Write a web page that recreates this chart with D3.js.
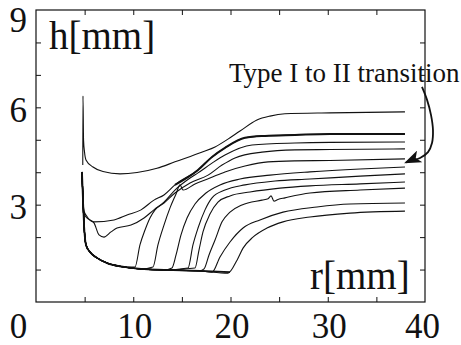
<!DOCTYPE html>
<html>
<head>
<meta charset="utf-8">
<script src="https://cdn.jsdelivr.net/npm/d3@7"></script>
<style>
 body{margin:0;background:#fff;}
 svg text{font-family:"Liberation Serif","Times New Roman",serif;fill:#111;}
</style>
</head>
<body>
<div id="chart"></div>
<script>
// tick values and labels
const xTickLabels = [0,10,20,30,40];
const yTickLabels = [3,6,9];
const xMinorTicks = [5,10,15,20,25,30,35];
const yMinorTicks = [1,2,3,4,5,6,7,8];

// thin film before the jump, shared by the curves that jump from the bottom  [r, h]
const film = [[4.73,4.01],[4.83,3.14],[4.94,2.37],[5.14,1.76],[5.55,1.54],[6.27,1.36],[7.30,1.20],[9.05,1.08],[10.80,1.02],[13.16,0.99],[16.86,0.96],[19.95,0.92]];

// top curve with the spike at the inlet
const curve1 = [[4.81,4.22],[4.83,6.35],[4.89,4.99],[4.99,4.62],[5.14,4.38],[5.86,4.16],[6.89,4.02],[8.64,3.95],[10.39,3.99],[12.44,4.12],[14.29,4.32],[17.17,4.63],[18.41,4.78],[19.74,5.02],[20.98,5.27],[22.72,5.61],[24.06,5.73],[25.60,5.80],[30.23,5.83],[37.94,5.86]];
// transition curve (bold on the right part)
const curve2 = [[4.73,4.01],[4.83,3.14],[4.94,2.81],[5.14,2.68],[5.96,2.47],[8.02,2.53],[9.36,2.68],[10.80,2.84],[12.13,3.14],[13.16,3.30],[14.29,3.61],[16.66,4.07],[18.10,4.47],[19.43,4.75],[21.49,5.06],[23.55,5.12],[26.63,5.15],[30.23,5.18],[37.94,5.18]];
const curve3 = [[4.73,4.01],[4.83,3.14],[4.94,2.74],[5.14,2.62],[5.96,2.44],[6.48,2.07],[6.99,2.00],[7.71,2.16],[8.33,2.28],[9.77,2.37],[11.11,2.59],[12.13,2.84],[13.16,3.08],[14.29,3.45],[15.84,3.82],[16.66,3.98],[18.10,4.28],[19.43,4.53],[22.21,4.84],[26.63,4.90],[30.23,4.92],[37.94,4.93]];
// jumps: points from the foot of the jump onwards
const jump4 = [[10.18,1.08],[10.69,1.76],[11.21,2.22],[11.72,2.59],[12.24,2.84],[13.16,3.05],[14.29,3.36],[15.84,3.67],[17.69,3.91],[19.13,4.22],[20.46,4.44],[23.24,4.62],[26.63,4.69],[30.23,4.70],[37.94,4.72]];
const jump5 = [[12.03,1.08],[12.54,1.76],[13.16,2.37],[13.78,2.90],[14.40,3.33],[14.81,3.61],[15.12,3.45],[16.35,3.64],[17.89,3.82],[19.43,4.01],[21.49,4.19],[23.86,4.32],[26.63,4.35],[30.23,4.36],[37.94,4.41]];
const jump6 = [[13.98,1.05],[14.40,1.45],[14.91,2.07],[15.53,2.59],[16.35,3.02],[17.48,3.36],[18.92,3.61],[20.98,3.79],[24.06,3.91],[28.17,4.01],[33.32,4.10],[37.94,4.16]];
const jump7 = [[15.63,1.05],[16.14,1.76],[16.66,2.28],[17.38,2.84],[18.10,3.21],[19.43,3.45],[21.49,3.61],[24.58,3.73],[28.17,3.79],[33.32,3.88],[37.94,3.95]];
const jump8 = [[16.35,1.05],[16.76,1.60],[17.17,2.16],[17.89,2.71],[18.71,3.08],[19.95,3.27],[22.01,3.39],[25.09,3.51],[28.17,3.58],[33.32,3.64],[37.94,3.70]];
const jump9 = [[17.28,1.02],[17.79,1.45],[18.41,1.91],[19.13,2.47],[19.95,2.77],[21.18,2.99],[23.24,3.14],[23.86,3.18],[24.17,3.27],[24.47,3.11],[24.88,3.16],[25.60,3.21],[28.17,3.36],[33.32,3.45],[37.94,3.51]];
const jump10 = [[18.10,0.92],[18.92,1.39],[19.95,1.85],[21.29,2.28],[23.03,2.53],[25.40,2.77],[28.89,2.93],[32.29,3.02],[37.94,3.05]];
const jump11 = [[19.74,0.89],[20.67,1.29],[21.29,1.66],[22.31,2.00],[23.75,2.28],[25.40,2.47],[28.17,2.62],[32.29,2.74],[37.94,2.80]];

// annotation arrow in data units (goes a bit outside the frame)
const arrowLine = [[39.69,6.63],[40.21,6.23],[40.62,5.76],[40.82,5.30],[40.72,4.90],[40.31,4.62],[39.49,4.44],[38.46,4.35],[38.05,4.30]];

const width = 461, height = 345;
const plot = {left:36, right:425, top:10, bottom:302};

const svg = d3.select('#chart').append('svg')
    .attr('width', width)
    .attr('height', height)
    .style('display','block');

const xScale = d3.scaleLinear().domain([0,40]).range([plot.left, plot.right]);
const yScale = d3.scaleLinear().domain([0,9]).range([plot.bottom, plot.top]);

// jump curves = film up to the foot, then own points
const jumps = [jump4, jump5, jump6, jump7, jump8, jump9, jump10, jump11]
    .map(j => film.filter(d => d[0] < j[0][0]).concat(j));
const curves = [curve1, curve2, curve3].concat(jumps);

const line = d3.line()
    .x(d => xScale(d[0]))
    .y(d => yScale(d[1]))
    .curve(d3.curveMonotoneX);

// darker bottom where all the film lines overlap
svg.append('path')
    .datum(film)
    .attr('fill','none')
    .attr('stroke','#111')
    .attr('stroke-width',1.8)
    .attr('d', line);

svg.append('g')
    .attr('class','curves')
    .selectAll('path')
    .data(curves)
    .join('path')
    .attr('fill','none')
    .attr('stroke','#111')
    .attr('stroke-width',1.1)
    .attr('stroke-linejoin','round')
    .attr('d', line);

// the transition curve is drawn heavier once it leaves the diagonal
svg.append('path')
    .datum(curve2.filter(d => d[0] >= 14))
    .attr('fill','none')
    .attr('stroke','#111')
    .attr('stroke-width',2)
    .attr('d', line);

// frame and inner ticks
const ticks = svg.append('g').attr('class','ticks');
ticks.append('g')
    .attr('transform',`translate(0,${plot.bottom})`)
    .call(d3.axisBottom(xScale).tickValues(xMinorTicks).tickSize(-5).tickFormat(''));
ticks.append('g')
    .attr('transform',`translate(0,${plot.top})`)
    .call(d3.axisTop(xScale).tickValues(xMinorTicks).tickSize(-5).tickFormat(''));
ticks.append('g')
    .attr('transform',`translate(${plot.left},0)`)
    .call(d3.axisLeft(yScale).tickValues(yMinorTicks).tickSize(-5).tickFormat(''));
ticks.append('g')
    .attr('transform',`translate(${plot.right},0)`)
    .call(d3.axisRight(yScale).tickValues(yMinorTicks).tickSize(-5).tickFormat(''));
ticks.selectAll('.domain').remove();
ticks.selectAll('line').attr('stroke','#111').attr('stroke-width',1);

svg.append('rect')
    .attr('x',plot.left)
    .attr('y',plot.top)
    .attr('width',plot.right-plot.left)
    .attr('height',plot.bottom-plot.top)
    .attr('fill','none')
    .attr('stroke','#111')
    .attr('stroke-width',1.2);

// tick labels
const xLab = svg.append('g')
    .attr('transform',`translate(0,${plot.bottom})`)
    .call(d3.axisBottom(xScale).tickValues(xTickLabels).tickSize(0).tickPadding(11));
xLab.select('.domain').remove();
xLab.selectAll('text')
    .style('font-size','35px')
    .attr('x', d => d===0 ? -18 : (d===40 ? -3 : 1));

const yLab = svg.append('g')
    .attr('transform',`translate(${plot.left},0)`)
    .call(d3.axisLeft(yScale).tickValues(yTickLabels).tickSize(0).tickPadding(9));
yLab.select('.domain').remove();
yLab.selectAll('text')
    .style('font-size','35px')
    .attr('dy', d => d===9 ? '0.6em' : '0.4em');

// axis titles inside the frame
svg.append('text')
    .attr('x',49)
    .attr('y',49)
    .style('font-size','39px')
    .text('h[mm]');

svg.append('text')
    .attr('x',310)
    .attr('y',289)
    .style('font-size','39px')
    .text('r[mm]');

// annotation
svg.append('text')
    .attr('x',229)
    .attr('y',82)
    .style('font-size','27px')
    .text('Type I to II transition');

const defs = svg.append('defs');
defs.append('marker')
    .attr('id','head')
    .attr('viewBox','0 -6 16 12')
    .attr('refX',14)
    .attr('refY',0)
    .attr('markerUnits','userSpaceOnUse')
    .attr('markerWidth',17)
    .attr('markerHeight',13)
    .attr('orient','auto')
    .append('path')
    .attr('d','M0,-6L16,0L0,6L4,0Z')
    .attr('fill','#111');

svg.append('path')
    .datum(arrowLine)
    .attr('fill','none')
    .attr('stroke','#111')
    .attr('stroke-width',1.8)
    .attr('marker-end','url(#head)')
    .attr('d', d3.line().x(d => xScale(d[0])).y(d => yScale(d[1])).curve(d3.curveCatmullRom));
</script>
</body>
</html>
